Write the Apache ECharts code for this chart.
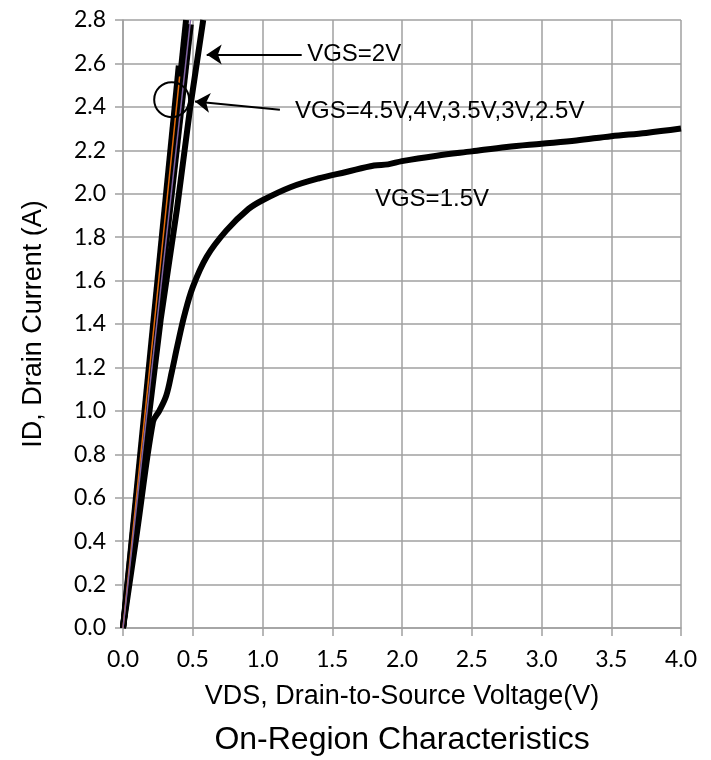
<!DOCTYPE html>
<html>
<head>
<meta charset="utf-8">
<script src="https://cdn.jsdelivr.net/npm/echarts@6/dist/echarts.min.js"></script>
<style>html,body{margin:0;padding:0;background:#fff}#c{width:711px;height:760px}</style>
</head>
<body>
<div id="c"></div>
<script>
// ---- data ----
const xTicks = [0, 0.5, 1.0, 1.5, 2.0, 2.5, 3.0, 3.5, 4.0];
const yTicks = [0, 0.2, 0.4, 0.6, 0.8, 1.0, 1.2, 1.4, 1.6, 1.8, 2.0, 2.2, 2.4, 2.6, 2.8];

const vds45 = [0, 0.452];  const id45 = [0, 2.80];
const vds40 = [0, 0.406];  const id40 = [0, 2.54];
const vds35 = [0, 0.400];  const id35 = [0, 2.59];
const vds30 = [0, 0.484];  const id30 = [0, 2.80];
const vds25 = [0, 0.486];  const id25 = [0, 2.78];
const vds20 = [0, 0.27, 0.387, 0.48, 0.575]; const id20 = [0, 1.42, 1.93, 2.39, 2.80];
const vds15 = [0, 0.10, 0.215, 0.26, 0.31, 0.35, 0.39, 0.44, 0.50, 0.60, 0.74, 0.90, 1.00, 1.20, 1.40, 1.60, 1.80, 1.90, 2.00, 2.25, 2.50, 2.75, 3.00, 3.25, 3.50, 3.75, 4.00];
const id15  = [0, 0.44, 0.95, 1.00, 1.07, 1.18, 1.30, 1.44, 1.57, 1.71, 1.83, 1.93, 1.97, 2.03, 2.07, 2.10, 2.13, 2.135, 2.15, 2.175, 2.195, 2.215, 2.23, 2.245, 2.265, 2.28, 2.30];

// annotations (data coordinates)
const label2V = {text: 'VGS=2V', x: 1.32, y: 2.641};
const labelHi = {text: 'VGS=4.5V,4V,3.5V,3V,2.5V', x: 1.233, y: 2.378};
const label15 = {text: 'VGS=1.5V', x: 1.806, y: 1.972};
const arrow2V = [[1.281, 2.641], [0.600, 2.641]];
const arrowHi = [[1.125, 2.387], [0.516, 2.425]];
const circleHi = [0.349, 2.433];

const pairs = (xs, ys) => xs.map((x, i) => [x, ys[i]]);

const chart = echarts.init(document.getElementById('c'), null, {renderer: 'canvas'});
const gridColor = '#a0a0a0';
const blackLine = (name, xs, ys, smooth) => ({
  name, type: 'line', data: pairs(xs, ys), showSymbol: false, symbol: 'none',
  smooth: smooth || false, clip: true, z: 2,
  lineStyle: {color: '#000', width: 6, cap: 'butt', join: 'round'}
});
const thinLine = (name, xs, ys, color) => ({
  name, type: 'line', data: pairs(xs, ys), showSymbol: false, symbol: 'none',
  clip: true, z: 3, lineStyle: {color, width: 1.5}
});
const textPoint = (t) => ({
  coord: [t.x, t.y], symbol: 'circle', symbolSize: 0,
  label: {show: true, formatter: t.text, position: 'right', distance: 0,
    color: '#000', fontFamily: 'Liberation Sans', fontSize: 24}
});

chart.setOption({
  animation: false,
  grid: {left: 123, right: 30, top: 20, bottom: 132, containLabel: false},
  xAxis: {
    type: 'value', min: 0, max: 4, interval: 0.5,
    name: 'VDS, Drain-to-Source Voltage(V)', nameLocation: 'middle', nameGap: 55,
    nameTextStyle: {fontFamily: 'Liberation Sans', fontSize: 27, color: '#000'},
    axisLine: {show: true, lineStyle: {color: gridColor, width: 1.5}},
    axisTick: {show: true, length: 8, lineStyle: {color: gridColor, width: 1.5}},
    axisLabel: {margin: 20, fontFamily: 'Lato', fontSize: 23, color: '#000',
      formatter: v => xTicks.includes(v) ? v.toFixed(1) : ''},
    splitLine: {show: true, lineStyle: {color: gridColor, width: 1.5}}
  },
  yAxis: {
    type: 'value', min: 0, max: 2.8, interval: 0.2,
    name: 'ID, Drain Current (A)', nameLocation: 'middle', nameGap: 76,
    nameTextStyle: {fontFamily: 'Liberation Sans', fontSize: 27, color: '#000'},
    axisLine: {show: true, lineStyle: {color: gridColor, width: 1.5}},
    axisTick: {show: true, length: 8, lineStyle: {color: gridColor, width: 1.5}},
    axisLabel: {margin: 17, fontFamily: 'Lato', fontSize: 23, color: '#000',
      formatter: v => { const t = yTicks.find(k => Math.abs(k - v) < 1e-6); return t === undefined ? '' : t.toFixed(1); }},
    splitLine: {show: true, lineStyle: {color: gridColor, width: 1.5}}
  },
  graphic: [{
    type: 'text', x: 402, y: 740,
    style: {text: 'On-Region Characteristics', fontFamily: 'Liberation Sans', fontSize: 32, fill: '#000',
      textAlign: 'center', textVerticalAlign: 'middle'}
  }],
  series: [
    blackLine('VGS=4.5V', vds45, id45),
    blackLine('VGS=3.5V', vds35, id35),
    blackLine('VGS=2.5V', vds25, id25),
    blackLine('VGS=2V', vds20, id20),
    Object.assign(blackLine('VGS=1.5V', vds15, id15, 0.35), {
      markPoint: {
        silent: true,
        data: [
          textPoint(label2V), textPoint(labelHi), textPoint(label15),
          {coord: circleHi, symbol: 'circle', symbolSize: 35,
           itemStyle: {color: 'rgba(0,0,0,0)', borderColor: '#000', borderWidth: 2},
           label: {show: false}}
        ]
      },
      markLine: {
        silent: true, symbol: ['none', 'arrow'], symbolSize: 15,
        lineStyle: {color: '#000', width: 2, type: 'solid'},
        label: {show: false},
        data: [
          [{coord: arrow2V[0]}, {coord: arrow2V[1]}],
          [{coord: arrowHi[0]}, {coord: arrowHi[1]}]
        ]
      }
    }),
    thinLine('VGS=4V', vds40, id40, '#E46C0A'),
    thinLine('VGS=3V', vds30, id30, '#8064A2')
  ]
});
</script>
</body>
</html>
